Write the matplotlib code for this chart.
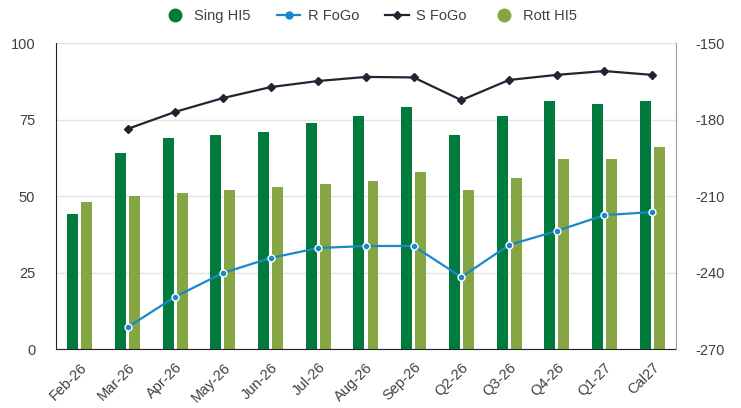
import matplotlib

matplotlib.use("Agg")

import matplotlib.pyplot as plt
import numpy as np
from matplotlib.lines import Line2D

plt.rcParams["font.family"] = ["Liberation Sans", "DejaVu Sans"]
plt.rcParams["axes.unicode_minus"] = False

categories = ["Feb-26", "Mar-26", "Apr-26", "May-26", "Jun-26", "Jul-26", "Aug-26",
              "Sep-26", "Q2-26", "Q3-26", "Q4-26", "Q1-27", "Cal27"]
sing_hi5 = [44, 64, 69, 70, 71, 74, 76, 79, 70, 76, 81, 80, 81]
rott_hi5 = [48, 50, 51, 52, 53, 54, 55, 58, 52, 56, 62, 62, 66]
# right axis series (no value for Feb-26)
r_fogo = [np.nan, -261.5, -249.5, -240.2, -234.3, -230.4, -229.6, -229.6,
          -241.8, -229.2, -223.7, -217.5, -216.3]
s_fogo = [np.nan, -183.7, -177.0, -171.6, -167.3, -164.9, -163.3, -163.5,
          -172.4, -164.5, -162.5, -161.0, -162.5]

SING_C = "#007a3d"
ROTT_C = "#86a544"
R_C = "#1a88c9"
S_C = "#1f2632"
TXT = "#404040"

fig = plt.figure(figsize=(7.41, 4.08), dpi=100)
ax = fig.add_axes([0.0756, 0.1446, 0.8366, 0.75])
ax2 = ax.twinx()

x = np.arange(len(categories))
w = 0.23
off = 0.147
ax.bar(x - off, sing_hi5, width=w, color=SING_C, zorder=2)
ax.bar(x + off, rott_hi5, width=w, color=ROTT_C, zorder=2)

ax2.plot(x, r_fogo, color=R_C, lw=1.6, marker="o", ms=5, mec="white", mew=1.0, zorder=3)
ax2.plot(x, s_fogo, color=S_C, lw=1.6, marker="D", ms=4.5, zorder=3)

ax.set_xlim(-0.5, len(categories) - 0.5)
ax.set_ylim(0, 100)
ax.set_yticks([0, 25, 50, 75, 100])
ax2.set_ylim(-270, -150)
ax2.set_yticks([-270, -240, -210, -180, -150])
ax.yaxis.grid(True, color="#e4e4e4", lw=1, zorder=0)
ax.set_axisbelow(True)
ax.set_xticks(x)
ax.set_xticklabels(categories, rotation=45, ha="right", rotation_mode="anchor")

for a in (ax, ax2):
    a.tick_params(length=0, labelsize=10.5, colors=TXT, pad=8)
    a.spines["top"].set_visible(False)
ax.tick_params(axis="y", pad=15)
ax2.tick_params(axis="y", pad=14)
ax.spines["left"].set_color("#222222")
ax.spines["bottom"].set_color("#222222")
ax.spines["right"].set_visible(False)
ax2.spines["left"].set_visible(False)
ax2.spines["bottom"].set_visible(False)
ax2.spines["right"].set_color("#9a9a9a")

handles = [
    Line2D([], [], ls="none", marker="o", ms=9, color=SING_C),
    Line2D([], [], color=R_C, lw=1.6, marker="o", ms=5),
    Line2D([], [], color=S_C, lw=1.6, marker="D", ms=4.5),
    Line2D([], [], ls="none", marker="o", ms=9, color=ROTT_C),
]
fig.legend(handles, ["Sing HI5", "R FoGo", "S FoGo", "Rott HI5"], loc="upper center",
           bbox_to_anchor=(0.5, 1.01), ncol=4, frameon=False, fontsize=10.5,
           labelcolor=TXT, handlelength=1.6, handletextpad=0.5, columnspacing=1.8)

fig.savefig("out.png", dpi=100)
